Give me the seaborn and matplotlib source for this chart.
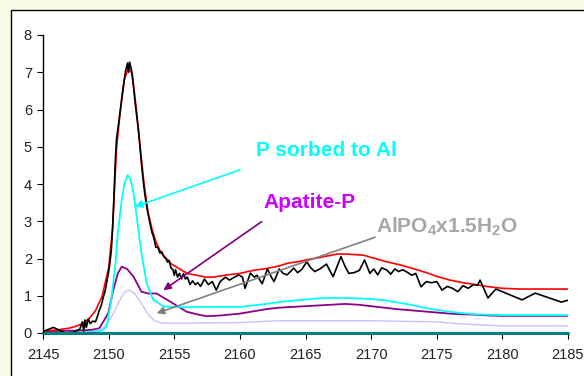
import matplotlib
matplotlib.use("Agg")
import matplotlib.pyplot as plt
import matplotlib.patches as patches
import pandas as pd
import seaborn as sns

# measured spectrum (black, noisy)
black_x = [2145.0, 2145.8, 2146.7, 2147.3, 2147.8, 2148.0, 2148.1, 2148.2, 2148.3, 2148.45,
           2148.6, 2148.8, 2149.0, 2149.15, 2149.3, 2149.45, 2149.6, 2149.75, 2149.9, 2150.05,
           2150.2, 2150.3, 2150.4, 2150.5, 2150.6, 2150.75, 2150.9, 2151.0, 2151.15, 2151.3,
           2151.45, 2151.52, 2151.6, 2151.75, 2151.9, 2152.0, 2152.15, 2152.3, 2152.45, 2152.6,
           2152.75, 2152.9, 2153.0, 2153.15, 2153.3, 2153.45, 2153.6, 2153.75, 2153.9, 2154.05,
           2154.2, 2154.35, 2154.5, 2154.6, 2154.75, 2154.9, 2155.0, 2155.1, 2155.25, 2155.4,
           2155.55, 2155.7, 2155.85, 2156.0, 2156.2, 2156.4, 2156.6, 2156.8,
           2157.0, 2157.3, 2157.6, 2157.9, 2158.2, 2158.5, 2158.9, 2159.2, 2159.5, 2159.9,
           2160.2, 2160.4, 2160.8, 2161.1, 2161.3, 2161.7, 2162.1, 2162.4, 2162.6, 2163.0,
           2163.3, 2163.6, 2164.1, 2164.4, 2164.7, 2165.1, 2165.4, 2165.7, 2166.1, 2166.6,
           2167.1, 2167.7, 2168.0, 2168.3, 2168.7, 2169.1, 2169.5, 2169.9, 2170.2, 2170.5,
           2170.8, 2171.2, 2171.5, 2171.8, 2172.1, 2172.4, 2172.8, 2173.1, 2173.4, 2173.8,
           2174.2, 2174.6, 2175.0, 2175.4, 2175.8, 2176.2, 2176.6, 2177.0, 2177.4, 2177.8,
           2178.1, 2178.3, 2178.9, 2179.5, 2181.5, 2182.5, 2184.5, 2185.0]
black_y = [0.04, 0.15, 0.00, 0.02, 0.10, 0.30, 0.05, 0.35, 0.15, 0.38,
           0.25, 0.32, 0.30, 0.45, 0.62, 0.75, 0.97, 1.15, 1.45, 1.75,
           2.20, 2.80, 3.60, 4.55, 5.20, 5.60, 6.00, 6.30, 6.70, 7.05,
           7.25, 7.00, 7.27, 7.05, 6.60, 6.25, 5.80, 5.35, 4.75, 4.20,
           3.75, 3.40, 3.20, 2.95, 2.70, 2.55, 2.30, 2.30, 2.15, 2.18,
           2.05, 2.00, 1.90, 1.95, 1.75, 1.70, 1.55, 1.70, 1.50, 1.60,
           1.45, 1.60, 1.45, 1.50, 1.30, 1.40, 1.30, 1.35,
           1.25, 1.45, 1.30, 1.38, 1.15, 1.38, 1.50, 1.42, 1.48, 1.56,
           1.50, 1.20, 1.61, 1.50, 1.55, 1.32, 1.72, 1.50, 1.38, 1.72,
           1.60, 1.56, 1.74, 1.62, 1.70, 1.91, 1.75, 1.65, 1.72, 1.85,
           1.51, 2.05, 1.80, 1.60, 1.62, 1.68, 1.96, 1.60, 1.72, 1.56,
           1.75, 1.69, 1.58, 1.72, 1.65, 1.70, 1.62, 1.55, 1.60, 1.24,
           1.38, 1.35, 1.38, 1.15, 1.25, 1.20, 1.11, 1.27, 1.20, 1.30,
           1.28, 1.42, 0.94, 1.18, 0.89, 1.07, 0.83, 0.88]

# total fit (red)
red_x = [2145, 2146, 2147, 2147.5, 2148, 2148.5, 2149, 2149.5, 2150, 2150.3,
         2150.6, 2150.9, 2151.2, 2151.5, 2151.8, 2152.1, 2152.4, 2152.7, 2153.0, 2153.3,
         2153.6, 2154.0, 2154.4, 2154.8, 2155.4, 2156, 2156.7, 2157.4, 2158, 2158.5,
         2159, 2160, 2161, 2162, 2163, 2163.6, 2164.5, 2165.3, 2166, 2167.4,
         2168, 2169.4, 2170.5, 2171.2, 2172.2, 2173, 2174.3, 2175, 2176, 2177,
         2178.1, 2179, 2180, 2181.4, 2185]
red_y = [0.05, 0.08, 0.13, 0.18, 0.25, 0.38, 0.60, 0.98, 1.75, 2.80,
         4.95, 6.00, 6.80, 7.12, 6.95, 6.05, 5.00, 4.00, 3.25, 2.80,
         2.45, 2.15, 2.00, 1.85, 1.72, 1.60, 1.55, 1.50, 1.50, 1.53,
         1.56, 1.60, 1.68, 1.73, 1.80, 1.87, 1.92, 1.98, 2.02, 2.12,
         2.12, 2.09, 1.98, 1.91, 1.83, 1.75, 1.61, 1.52, 1.42, 1.35,
         1.29, 1.24, 1.20, 1.18, 1.18]

# P sorbed to Al (cyan)
cyan_x = [2145, 2148, 2149, 2149.5, 2149.85, 2150.2, 2150.5, 2150.7, 2151.0, 2151.2,
          2151.45, 2151.65, 2151.9, 2152.14, 2152.5, 2152.9, 2153.4, 2154.2, 2155, 2156,
          2157, 2158, 2159, 2160, 2161, 2162, 2163, 2164, 2165, 2166,
          2167, 2168, 2169, 2170, 2171, 2172, 2173, 2174, 2175, 2176,
          2177, 2178, 2179, 2180, 2185]
cyan_y = [0.00, 0.01, 0.03, 0.07, 0.17, 0.89, 1.78, 2.68, 3.57, 4.00,
          4.24, 4.15, 3.75, 3.12, 2.14, 1.33, 0.89, 0.71, 0.70, 0.69,
          0.70, 0.70, 0.70, 0.70, 0.74, 0.78, 0.83, 0.87, 0.90, 0.93,
          0.94, 0.94, 0.93, 0.91, 0.88, 0.82, 0.76, 0.68, 0.62, 0.57,
          0.53, 0.50, 0.49, 0.48, 0.48]

# Apatite-P (purple)
purple_x = [2145, 2147, 2148.1, 2148.8, 2149.3, 2149.97, 2150.35, 2150.7, 2151.0, 2151.4,
            2151.9, 2152.5, 2153.0, 2153.65, 2154.7, 2155.95, 2157.0, 2157.5, 2158.5, 2160,
            2161, 2162, 2163, 2164, 2165, 2166, 2167, 2168, 2169, 2170,
            2171, 2172, 2173, 2174, 2175, 2176, 2177, 2178, 2179, 2180, 2185]
purple_y = [0.05, 0.06, 0.07, 0.09, 0.13, 0.53, 1.15, 1.60, 1.78, 1.72,
            1.51, 1.11, 1.06, 1.06, 0.84, 0.57, 0.48, 0.45, 0.47, 0.52,
            0.58, 0.64, 0.68, 0.70, 0.72, 0.74, 0.76, 0.78, 0.76, 0.72,
            0.68, 0.64, 0.61, 0.58, 0.55, 0.52, 0.50, 0.49, 0.47, 0.46, 0.46]

# AlPO4 x 1.5H2O (lavender)
lav_x = [2145, 2148, 2149, 2149.5, 2150, 2150.5, 2151.0, 2151.3, 2151.6, 2152.0,
         2152.5, 2153.0, 2153.5, 2154, 2155, 2157, 2160, 2163, 2166, 2170,
         2173, 2175, 2177, 2180, 2185]
lav_y = [0.02, 0.03, 0.05, 0.10, 0.30, 0.62, 0.98, 1.12, 1.15, 1.05,
         0.80, 0.50, 0.33, 0.27, 0.26, 0.27, 0.28, 0.33, 0.33, 0.33,
         0.31, 0.30, 0.24, 0.19, 0.19]

base_x = [2145, 2185]
base_y = [0, 0]

x_ticks = [2145, 2150, 2155, 2160, 2165, 2170, 2175, 2180, 2185]
y_ticks = [0, 1, 2, 3, 4, 5, 6, 7, 8]

sns.set_style("white")
plt.rcParams["font.family"] = ["Liberation Sans", "DejaVu Sans"]
plt.rcParams["mathtext.fontset"] = "custom"
plt.rcParams["mathtext.rm"] = "Liberation Sans:bold"
plt.rcParams["mathtext.it"] = "Liberation Sans:bold"
plt.rcParams["mathtext.bf"] = "Liberation Sans:bold"

fig = plt.figure(figsize=(5.84, 3.76), dpi=100)
fig.patch.set_facecolor("#F8FDE6")
# white plot-area frame (runs off the right/bottom edge)
fig.patches.append(patches.Rectangle((11 / 584, -0.2), 1.2, 1.2 - 10 / 376,
                                     transform=fig.transFigure, facecolor="white",
                                     edgecolor="black", lw=1.0, zorder=-5))

ax = fig.add_axes([43 / 584, 1 - 333 / 376, 525 / 584, 298 / 376])
ax.set_facecolor("white")

series = [
    (lav_x, lav_y, "#C4C4FA", 1.0),
    (purple_x, purple_y, "#8B008B", 1.3),
    (cyan_x, cyan_y, "#00FFFF", 1.3),
    (red_x, red_y, "#FF0000", 1.2),
    (black_x, black_y, "#000000", 1.2),
]
for xs, ys, col, lw in series:
    df = pd.DataFrame({"x": xs, "y": ys})
    sns.lineplot(data=df, x="x", y="y", color=col, lw=lw, ax=ax,
                 estimator=None, sort=False)
sns.lineplot(x=base_x, y=base_y, color="#008080", lw=2.2, ax=ax,
             estimator=None, sort=False, clip_on=False)

ax.set_xlim(2145, 2185)
ax.set_ylim(0, 8)
ax.set_xticks(x_ticks)
ax.set_yticks(y_ticks)
ax.set_xlabel("")
ax.set_ylabel("")
for s in ["top", "right"]:
    ax.spines[s].set_visible(False)
ax.spines["left"].set_color("black")
ax.spines["left"].set_linewidth(1.0)
ax.spines["bottom"].set_color("#008080")
ax.spines["bottom"].set_linewidth(1.0)
ax.tick_params(axis="both", direction="out", length=4, width=0.8, color="black",
               labelsize=10.5, labelcolor="#222222", bottom=True, left=True)
ax.tick_params(axis="x", pad=7)
ax.tick_params(axis="y", pad=4)

# annotations
ax.annotate("", xy=(2152.0, 3.39), xytext=(2160.0, 4.38),
            arrowprops=dict(arrowstyle="-|>", color="#00FFFF", lw=1.2,
                            mutation_scale=11, shrinkA=0, shrinkB=0))
ax.text(2166.6, 4.89, "P sorbed to Al", color="#00FFFF", fontsize=15,
        fontweight="bold", ha="center", va="center")

ax.annotate("", xy=(2154.17, 1.15), xytext=(2161.66, 2.99),
            arrowprops=dict(arrowstyle="-|>", color="#800080", lw=1.2,
                            mutation_scale=11, shrinkA=0, shrinkB=0))
ax.text(2165.3, 3.49, "Apatite-P", color="#CC00FF", fontsize=15,
        fontweight="bold", ha="center", va="center")

ax.annotate("", xy=(2153.66, 0.53), xytext=(2170.3, 2.57),
            arrowprops=dict(arrowstyle="-|>", color="#808080", lw=1.2,
                            mutation_scale=11, shrinkA=0, shrinkB=0))
ax.text(2175.8, 2.85, r"AlPO$_4$x1.5H$_2$O", color="#A6A6A6", fontsize=15,
        fontweight="bold", ha="center", va="center")

fig.savefig("out.png", dpi=100, facecolor=fig.get_facecolor())
